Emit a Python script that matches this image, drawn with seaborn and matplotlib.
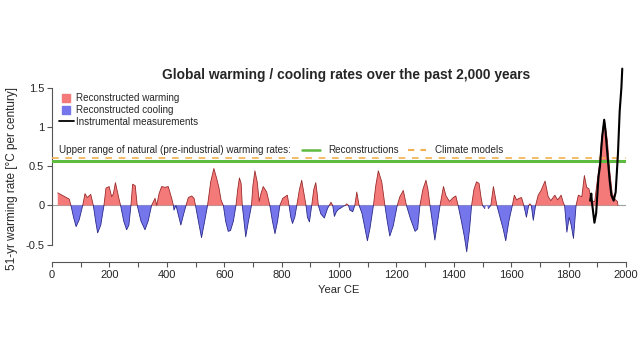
import numpy as np
import pandas as pd
import matplotlib
matplotlib.use("Agg")
import matplotlib.pyplot as plt
import seaborn as sns
from matplotlib.lines import Line2D

# ---- data ----
recon_year = [20, 30, 40, 50, 60, 66, 75, 84, 95, 107, 115, 123, 135, 144, 152, 159, 170, 181,
              188, 199, 208, 214, 221, 233, 239, 250, 260, 268, 275, 281, 290, 297, 310, 324,
              335, 347, 359, 365, 373, 382, 394, 405, 417, 423, 425, 432, 440, 449, 458, 467,
              475, 487, 495, 500, 510, 521, 532, 542, 553, 564, 574, 582, 589, 597, 605, 614,
              622, 632, 641, 647, 653, 659, 663, 669, 675, 684, 690, 695, 700, 707, 715, 722,
              728, 736, 748, 759, 768, 777, 786, 794, 804, 812, 820, 826, 832, 838, 846, 853,
              862, 870, 878, 885, 890, 897, 905, 912, 919, 924, 928, 937, 949, 960, 966, 972,
              978, 984, 991, 998, 1008, 1015, 1022, 1027, 1033, 1038, 1048, 1055, 1062, 1070,
              1080, 1088, 1099, 1108, 1120, 1128, 1137, 1149, 1160, 1168, 1177, 1189, 1203, 1212,
              1224, 1235, 1249, 1265, 1274, 1282, 1292, 1303, 1310, 1317, 1325, 1334, 1344,
              1352, 1364, 1373, 1385, 1398, 1407, 1415, 1427, 1437, 1445, 1455, 1462, 1470,
              1479, 1488, 1495, 1500, 1508, 1514, 1520, 1529, 1538, 1550, 1561, 1572, 1581,
              1592, 1604, 1611, 1619, 1627, 1636, 1644, 1653, 1661, 1665, 1670, 1677, 1685,
              1694, 1704, 1718, 1729, 1738, 1752, 1762, 1774, 1782, 1786, 1794, 1802, 1809,
              1817, 1826, 1834, 1846, 1855, 1863, 1871, 1878, 1885, 1891, 1897, 1909, 1915,
              1920, 1926, 1935, 1943, 1952, 1961, 1970, 1972]
recon_rate = [0.16, 0.14, 0.12, 0.10, 0.08, 0.0, -0.15, -0.27, -0.18, 0.0, 0.15, 0.10, 0.14, 0.0,
              -0.2, -0.35, -0.25, 0.0, 0.22, 0.24, 0.11, 0.15, 0.29, 0.09, 0.0, -0.2, -0.31,
              -0.25, 0.0, 0.27, 0.25, 0.0, -0.2, -0.31, -0.2, 0.0, 0.09, 0.0, 0.15, 0.24, 0.23,
              0.24, 0.09, 0.0, -0.06, 0.0, -0.12, -0.25, -0.12, 0.0, 0.10, 0.12, 0.09, 0.0,
              -0.2, -0.41, -0.2, 0.0, 0.3, 0.47, 0.34, 0.22, 0.07, 0.0, -0.2, -0.33, -0.32,
              -0.2, 0.0, 0.2, 0.35, 0.28, 0.0, -0.2, -0.4, -0.21, -0.1, 0.0, 0.25, 0.44, 0.3,
              0.05, 0.15, 0.24, 0.17, 0.0, -0.2, -0.36, -0.2, 0.0, 0.09, 0.11, 0.13, 0.0,
              -0.15, -0.23, -0.15, 0.0, 0.2, 0.32, 0.15, 0.0, -0.15, -0.21, 0.0, 0.2, 0.29,
              0.15, 0.0, -0.11, -0.16, -0.04, 0.0, 0.04, 0.0, -0.14, -0.08, -0.05, -0.03,
              -0.01, 0.0, 0.02, 0.0, -0.06, -0.08, 0.0, 0.17, 0.0, -0.1, -0.25, -0.45, -0.29,
              0.0, 0.25, 0.44, 0.3, 0.0, -0.2, -0.39, -0.26, 0.0, 0.11, 0.19, 0.0, -0.17, -0.33,
              -0.3, 0.0, 0.2, 0.32, 0.2, 0.0, -0.2, -0.44, -0.2, 0.0, 0.24, 0.12, 0.05, 0.10,
              0.12, 0.0, -0.21, -0.4, -0.59, -0.3, 0.0, 0.2, 0.3, 0.28, 0.1, 0.0, -0.04, 0.01,
              -0.04, 0.0, 0.24, 0.0, -0.15, -0.3, -0.45, -0.2, 0.0, 0.13, 0.07, 0.09, 0.10,
              0.0, -0.15, 0.0, 0.02, 0.0, -0.19, 0.0, 0.13, 0.19, 0.31, 0.11, 0.06, 0.13, 0.07,
              0.13, 0.03, 0.0, -0.34, -0.15, -0.25, -0.42, 0.0, 0.13, 0.11, 0.38, 0.23, 0.21,
              0.08, 0.05, 0.05, 0.23, 0.57, 0.85, 1.0, 1.06, 0.83, 0.45, 0.15, 0.08, 0.05, 0.0]

instr_year = [1875, 1879, 1881, 1890, 1896, 1904, 1909, 1917, 1924, 1928, 1935, 1943, 1949,
              1957, 1964, 1972, 1978, 1984, 1987]
instr_rate = [0.06, 0.15, 0.05, -0.22, -0.10, 0.36, 0.49, 0.87, 1.09, 0.97, 0.66, 0.32, 0.13,
              0.06, 0.17, 0.66, 1.20, 1.50, 1.74]

natural_upper_recon = 0.57
natural_upper_models = 0.60

x_ticks = [0, 200, 400, 600, 800, 1000, 1200, 1400, 1600, 1800, 2000]
y_ticks = [-0.5, 0, 0.5, 1, 1.5]
y_tick_labels = ["-0.5", "0", "0.5", "1", "1.5"]

title = "Global warming / cooling rates over the past 2,000 years"

# ---- style ----
sns.set_style("ticks")
plt.rcParams["font.family"] = ["Liberation Sans", "DejaVu Sans"]

RED = "#F47A7A"
BLUE = "#7676EC"
GREEN = "#5DBB3F"
ORANGE = "#F2B050"

recon = pd.DataFrame({"year": recon_year, "rate": recon_rate})
instr = pd.DataFrame({"year": instr_year, "rate": instr_rate})

fig = plt.figure(figsize=(6.4, 3.6), dpi=100)
ax = fig.add_axes([52 / 640, (360 - 262) / 360, 574 / 640, 202 / 360])

x = recon["year"].to_numpy(float)
y = recon["rate"].to_numpy(float)

ax.axhline(0, color="#A0A0A0", lw=0.8, zorder=1)
ax.fill_between(x, y, 0, where=y >= 0, interpolate=True, color=RED, lw=0, zorder=2)
ax.fill_between(x, y, 0, where=y <= 0, interpolate=True, color=BLUE, lw=0, zorder=2)
# outlines
yp = np.where(y >= 0, y, np.nan)
yn = np.where(y <= 0, y, np.nan)
ax.plot(x, yp, color="#9A2A2A", lw=0.6, zorder=3)
ax.plot(x, yn, color="#2A2A8A", lw=0.6, zorder=3)

ax.axhline(natural_upper_recon, color=GREEN, lw=2.2, zorder=4)
ax.axhline(natural_upper_models, color=ORANGE, lw=1.2, ls=(0, (4, 4)), zorder=4)

sns.lineplot(data=instr, x="year", y="rate", color="black", lw=1.5, ax=ax, zorder=5,
             legend=False)

ax.set_xlim(0, 2000)
ax.set_ylim(-0.72, 1.85)
ax.set_xticks(x_ticks)
ax.set_xticks([v + 100 for v in x_ticks[:-1]], minor=True)
ax.set_yticks(y_ticks)
ax.set_yticklabels(y_tick_labels)
for s in ["top", "right"]:
    ax.spines[s].set_visible(False)
ax.spines["left"].set_bounds(-0.5, 1.5)
ax.spines["bottom"].set_bounds(0, 2000)
for s in ["left", "bottom"]:
    ax.spines[s].set_color("#555555")
    ax.spines[s].set_linewidth(0.8)
ax.tick_params(axis="both", which="both", direction="out", length=3.5, width=0.8,
               color="#555555", labelsize=8, pad=2)
ax.tick_params(axis="x", which="minor", length=3.5)

ax.set_xlabel("Year CE", fontsize=8, labelpad=4)
ax.set_ylabel("51-yr warming rate [°C per century]", fontsize=8.5)
ax.yaxis.set_label_coords(-0.059, 0.415)

fig.text(346 / 640, 1 - 75 / 360, title, ha="center", va="center",
         fontsize=9.9, fontweight="bold")

h1 = [Line2D([], [], ls="none", marker="s", markersize=5.5, color=RED, markeredgecolor=RED),
      Line2D([], [], ls="none", marker="s", markersize=5.5, color=BLUE, markeredgecolor=BLUE),
      Line2D([], [], color="black", lw=1.3)]
fig.legend(h1, ["Reconstructed warming", "Reconstructed cooling",
                "Instrumental measurements"],
           loc="upper left", bbox_to_anchor=(59 / 640, 1 - 93 / 360),
           frameon=False, fontsize=7.1, handlelength=1.5, handletextpad=0.25,
           labelspacing=0.2, borderpad=0, borderaxespad=0)

fig.text(59 / 640, 1 - 150 / 360,
         "Upper range of natural (pre-industrial) warming rates:",
         ha="left", va="center", fontsize=7.1)
h2 = [Line2D([], [], color=GREEN, lw=1.8),
      Line2D([], [], color=ORANGE, lw=1.5, ls=(0, (3, 3)))]
fig.legend(h2, ["Reconstructions", "Climate models"], ncol=2,
           loc="center left", bbox_to_anchor=(302 / 640, 1 - 150 / 360),
           frameon=False, fontsize=7.1, handlelength=1.8, handletextpad=0.9,
           columnspacing=0.9, borderpad=0, borderaxespad=0)

fig.savefig("out.png", dpi=100)
